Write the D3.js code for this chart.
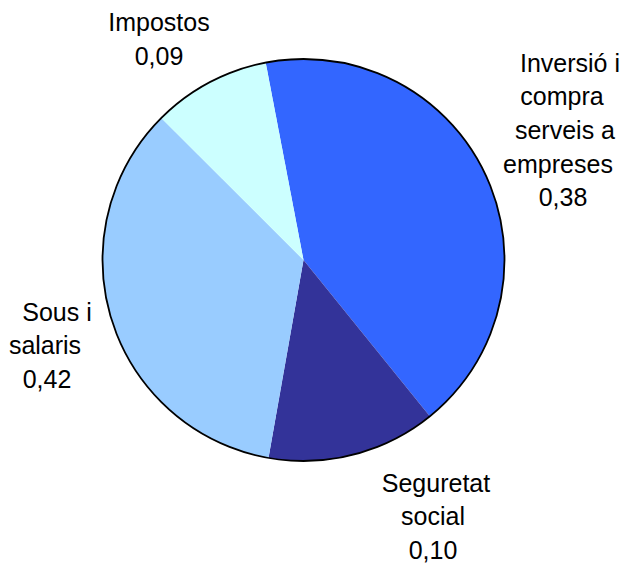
<!DOCTYPE html>
<html>
<head>
<meta charset="utf-8">
<script src="https://cdn.jsdelivr.net/npm/d3@7"></script>
<style>
  html, body { margin: 0; padding: 0; background: #fff; }
  text { font-family: "Liberation Sans", Arial, sans-serif; fill: #000; }
</style>
</head>
<body>
<div id="chart"></div>
<script>
// slices as drawn, going clockwise from the top
var categories = ["Inversió i compra serveis a empreses", "Seguretat social", "Sous i salaris", "Impostos"];
var shares = [0.422, 0.136, 0.347, 0.095];
// the printed values next to each slice
var shareLabels = ["0,38", "0,10", "0,42", "0,09"];
var colors = ["#3366FF", "#333399", "#99CCFF", "#CCFFFF"];

var width = 628, height = 567;
var cx = 303.5, cy = 260, radius = 201;
var start = -10.85 * Math.PI / 180;

// label layout: wrapped lines, block centre x, first baseline y
// (dx nudges a few lines the way the original renderer placed them)
var labelLayout = [
  { lines: ["Inversió i", "compra", "serveis a", "empreses"], dx: [7, -1, 2, -5], x: 563, y: 71.7 },
  { lines: ["Seguretat", "social"], dx: [3, 0], x: 433, y: 491.7 },
  { lines: ["Sous i", "salaris"], dx: [10, -2], x: 47, y: 320.7 },
  { lines: ["Impostos"], dx: [0], x: 159, y: 31 }
];
var lineHeight = 33.6;

var svg = d3.select("#chart").append("svg")
  .attr("width", width)
  .attr("height", height);

var pie = d3.pie()
  .sort(null)
  .value(function(d) { return d.v; })
  .startAngle(start)
  .endAngle(start + 2 * Math.PI);

var arc = d3.arc().innerRadius(0).outerRadius(radius);

var data = categories.map(function(c, i) {
  return { name: c, v: shares[i], label: shareLabels[i], color: colors[i] };
});

var g = svg.append("g").attr("transform", "translate(" + cx + "," + cy + ")");

g.selectAll("path.slice")
  .data(pie(data))
  .enter()
  .append("path")
  .attr("class", "slice")
  .attr("d", arc)
  .attr("fill", function(d) { return d.data.color; });

// outer rim only, no lines between slices
g.append("circle")
  .attr("r", radius)
  .attr("fill", "none")
  .attr("stroke", "#000")
  .attr("stroke-width", 1.8);

// labels
data.forEach(function(d, i) {
  var lay = labelLayout[i];
  var lines = lay.lines.concat([d.label]);
  var t = svg.append("text")
    .attr("text-anchor", "middle")
    .attr("font-size", 25);
  lines.forEach(function(line, k) {
    t.append("tspan")
      .attr("x", lay.x + (lay.dx[k] || 0))
      .attr("y", lay.y + k * lineHeight)
      .text(line);
  });
});
</script>
</body>
</html>
